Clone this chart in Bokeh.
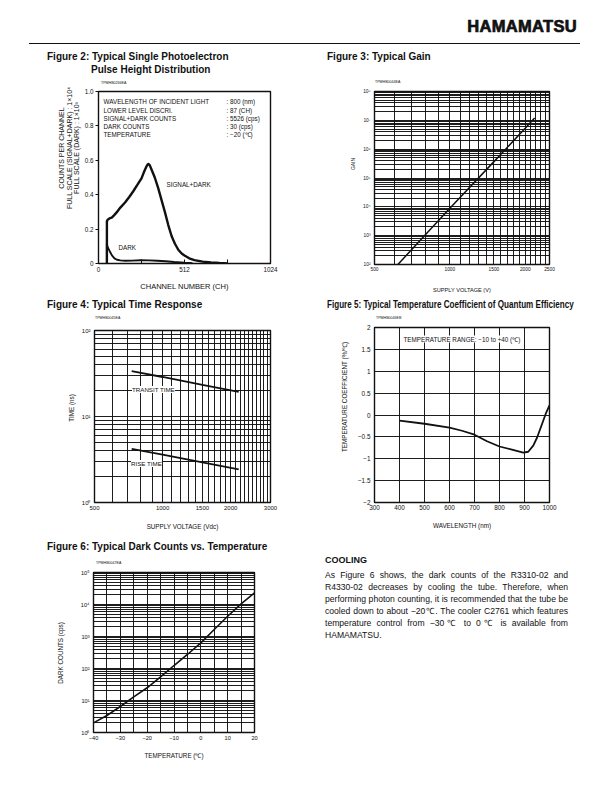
from bokeh.plotting import figure
from bokeh.models import FixedTicker, Label, Div, Range1d, CustomJSTickFormatter, Spacer
from bokeh.layouts import row, column
from bokeh.embed import file_html
from bokeh.resources import INLINE

FONT = "Liberation Sans"
CSS_FONT = "'Liberation Sans', Arial, sans-serif"
INK = "#111111"

# ---------------- data ----------------
# Figure 2: pulse height distribution (channel, counts per channel, normalised)
sig_channel = [50, 50, 55, 65, 79, 95, 108, 130, 158, 183, 207, 232, 256, 270, 286, 295, 305, 315,
               335, 355, 375, 395, 415, 435, 455, 475, 495, 512, 540, 571, 620, 670, 720, 768]
sig_counts = [0, 0.245, 0.255, 0.262, 0.267, 0.283, 0.297, 0.325, 0.355, 0.387, 0.42, 0.458, 0.495,
              0.53, 0.565, 0.58, 0.572, 0.548, 0.50, 0.44, 0.37, 0.30, 0.225, 0.16, 0.115, 0.08,
              0.058, 0.047, 0.03, 0.02, 0.011, 0.006, 0.003, 0.001]
dark_channel = [50, 50, 53, 60, 70, 80, 95, 110, 130, 160, 200, 250, 300, 350, 400, 450, 512, 560]
dark_counts = [0, 0.115, 0.10, 0.085, 0.065, 0.047, 0.030, 0.022, 0.018, 0.016, 0.017, 0.019,
               0.018, 0.016, 0.013, 0.009, 0.005, 0.002]
fig2_xticks = [0, 512, 1024]
fig2_xlabels = ["0", "512", "1024"]
fig2_yticks = [0, 0.2, 0.4, 0.6, 0.8, 1.0]
fig2_ylabels = ["0", "0.2", "0.4", "0.6", "0.8", "1.0"]
fig2_conditions = ["WAVELENGTH OF INCIDENT LIGHT", "LOWER LEVEL DISCRI.", "SIGNAL+DARK COUNTS",
                   "DARK COUNTS", "TEMPERATURE"]
fig2_values = [": 800 (nm)", ": 87 (CH)", ": 5526 (cps)", ": 30 (cps)", ": \u221220 (\u2103)"]

# Figure 3: gain vs supply voltage
gain_voltage = [620, 800, 1000, 1500, 2000, 2180]
gain_values = [1e2, 1.1e3, 9e3, 3.7e5, 5.3e6, 1.2e7]
fig3_xticks = [500, 1000, 1500, 2000, 2500]
fig3_xlabels = ["500", "1000", "1500", "2000", "2500"]
fig3_yticks = [1e2, 1e3, 1e4, 1e5, 1e6, 1e7, 1e8]
fig3_ylabels = ["10\u00b2", "10\u00b3", "10\u2074", "10\u2075", "10\u2076", "10\u2077", "10\u2078"]

# Figure 4: time response
time_voltage = [730, 1000, 1500, 2170]
transit_time = [33.8, 28.8, 23.3, 19.3]
rise_time = [4.2, 3.6, 2.93, 2.43]
fig4_xticks = [500, 1000, 1500, 2000, 3000]
fig4_xlabels = ["500", "1000", "1500", "2000", "3000"]
fig4_yticks = [1, 10, 100]
fig4_ylabels = ["10\u2070", "10\u00b9", "10\u00b2"]

# Figure 5: temperature coefficient of QE
wavelength = [400, 500, 600, 650, 700, 750, 800, 850, 895, 915, 935, 950, 968, 985, 1000]
temp_coeff = [-0.13, -0.20, -0.29, -0.36, -0.45, -0.60, -0.72, -0.79, -0.86, -0.84, -0.70,
              -0.52, -0.24, 0.03, 0.22]
fig5_xticks = [300, 400, 500, 600, 700, 800, 900, 1000]
fig5_xlabels = ["300", "400", "500", "600", "700", "800", "900", "1000"]
fig5_yticks = [-2, -1.5, -1, -0.5, 0, 0.5, 1, 1.5, 2]
fig5_ylabels = ["\u22122", "\u22121.5", "\u22121", "\u22120.5", "0", "0.5", "1", "1.5", "2"]

# Figure 6: dark counts vs temperature
temperature = [-40, -35, -30, -25, -20, -15, -10, -5, 0, 5, 10, 15, 20]
dark_cps = [2.0, 3.4, 6.5, 13, 25, 55, 124, 274, 630, 1660, 4300, 10500, 23000]
fig6_xticks = [-40, -30, -20, -10, 0, 10, 20]
fig6_xlabels = ["\u221240", "\u221230", "\u221220", "\u221210", "0", "10", "20"]
fig6_yticks = [1, 10, 100, 1e3, 1e4, 1e5]
fig6_ylabels = ["10\u2070", "10\u00b9", "10\u00b2", "10\u00b3", "10\u2074", "10\u2075"]


# ---------------- helpers ----------------
def log_grid(lo_exp, hi_exp):
    out = []
    for e in range(lo_exp, hi_exp):
        for m in range(1, 10):
            out.append(m * 10.0 ** e)
    out.append(10.0 ** hi_exp)
    return out


def fmt(tick_values, tick_labels):
    return CustomJSTickFormatter(args=dict(tvals=list(tick_values), tlabs=list(tick_labels)), code="""
const i = tvals.findIndex((t) => Math.abs(t - tick) <= 1e-6 * Math.max(1, Math.abs(t)));
return i >= 0 ? tlabs[i] : "";
""")


def text_div(w, h, ox, oy, items):
    """items: (page_x, page_y_center, text, size_px, bold, rotated, extra_css)"""
    parts = []
    for (px, py, text, size, bold, rotated, extra) in items:
        lh = size * 1.2
        weight = "bold" if bold else "normal"
        if rotated:
            parts.append(
                f'<div style="position:absolute;left:{px - ox}px;top:{py - oy}px;white-space:nowrap;'
                f'font-size:{size}px;line-height:{lh}px;font-weight:{weight};'
                f'transform:translate(-50%,-50%) rotate(-90deg);{extra}">{text}</div>')
        else:
            parts.append(
                f'<div style="position:absolute;left:{px - ox}px;top:{py - oy - lh / 2}px;white-space:nowrap;'
                f'font-size:{size}px;line-height:{lh}px;font-weight:{weight};{extra}">{text}</div>')
    html = (f'<div style="position:relative;width:{w}px;height:{h}px;font-family:{CSS_FONT};'
            f'color:{INK};">' + "".join(parts) + "</div>")
    return Div(width=w, height=h, margin=0, text=html)


def panel(origin, size, frame, left_border, xr, yr, top_items, left_items,
          xtype="linear", ytype="linear", top_gap=4):
    ox, oy = origin
    w, h = size
    fx0, fy0, fx1, fy1 = frame
    th = fy0 - top_gap - oy
    lw = fx0 - left_border - ox
    fw, fh = w - lw, h - th
    p = figure(width=fw, height=fh, x_range=Range1d(*xr), y_range=Range1d(*yr),
               x_axis_type=xtype, y_axis_type=ytype, output_backend="svg",
               toolbar_location=None,
               min_border_left=left_border, min_border_right=ox + w - fx1,
               min_border_top=top_gap, min_border_bottom=oy + h - fy1)
    p.outline_line_color = INK
    p.outline_line_width = 1.4
    p.background_fill_color = "white"
    p.border_fill_color = "white"
    for ax in (p.xaxis[0], p.yaxis[0]):
        ax.axis_line_color = None
        ax.major_tick_in = 0
        ax.major_tick_out = 0
        ax.minor_tick_in = 0
        ax.minor_tick_out = 0
        ax.major_label_text_font = FONT
        ax.axis_label_text_font = FONT
        ax.axis_label_text_font_style = "normal"
        ax.major_label_text_color = INK
        ax.axis_label_text_color = INK
    for g in (p.xgrid[0], p.ygrid[0]):
        g.grid_line_color = "#111111"
        g.grid_line_width = 0.95
    top = text_div(w, th, ox, oy, top_items)
    left = text_div(lw, fh, ox, oy + th, left_items)
    return p, column(top, row(left, p))


def put(p, frame, px, py, text, size, bg=None):
    """Label inside the plot frame, positioned in page pixels."""
    fx0, fy0, fx1, fy1 = frame
    lab = Label(x=px - fx0, y=fy1 - py, x_units="screen", y_units="screen", text=text,
                text_font=FONT, text_font_size=f"{size}px", text_align="left",
                text_baseline="middle", text_color=INK, background_fill_color=bg)
    p.add_layout(lab)


# ---------------- header ----------------
header = Div(width=604, height=48, margin=0, text=f"""
<div style="position:relative;width:604px;height:48px;">
  <div style="position:absolute;left:29px;top:43px;width:551px;height:0;border-top:1.3px solid #111;"></div>
  <div style="position:absolute;right:27px;top:17px;font-family:{CSS_FONT};font-weight:bold;
              font-size:16.5px;line-height:18px;letter-spacing:0.3px;color:#111;-webkit-text-stroke:0.7px #111;">HAMAMATSU</div>
</div>""")

# ---------------- Figure 2 ----------------
F2 = (97, 91, 270, 263)
p2, panel2 = panel((8, 48), (308, 247), F2, 16, (0, 1024), (0, 1.0),
                   [(47, 57, "Figure 2: Typical Single Photoelectron", 10, True, False, ""),
                    (91, 69.5, "Pulse Height Distribution", 10, True, False, ""),
                    (101, 83, "TPMHB0266EA", 3.6, False, False, "")],
                   [(62, 148, "COUNTS PER CHANNEL", 7, False, True, ""),
                    (69.5, 148, "FULL SCALE (SIGNAL+DARK) : 1\u00d710\u2074", 7, False, True, ""),
                    (77, 148, "FULL SCALE (DARK) : 1\u00d710\u00b3", 7, False, True, "")])
p2.xgrid.visible = False
p2.ygrid.visible = False
p2.xaxis.ticker = FixedTicker(ticks=fig2_xticks, minor_ticks=[256, 768])
p2.xaxis.formatter = fmt(fig2_xticks, fig2_xlabels)
p2.xaxis.major_tick_in = 4
p2.xaxis.minor_tick_in = 4
p2.yaxis.ticker = FixedTicker(ticks=fig2_yticks)
p2.yaxis.formatter = fmt(fig2_yticks, fig2_ylabels)
p2.yaxis.major_tick_out = 3
p2.yaxis.major_tick_line_color = INK
p2.xaxis.major_tick_line_color = INK
p2.xaxis.minor_tick_line_color = INK
p2.xaxis.major_label_text_font_size = "6.3px"
p2.yaxis.major_label_text_font_size = "6.3px"
p2.xaxis.major_label_standoff = 3
p2.yaxis.major_label_standoff = 2
p2.xaxis.axis_label = "CHANNEL NUMBER (CH)"
p2.xaxis.axis_label_text_font_size = "7.5px"
p2.xaxis.axis_label_standoff = 7
p2.line(sig_channel, sig_counts, line_color=INK, line_width=2.4)
p2.line(dark_channel, dark_counts, line_color=INK, line_width=1.9)
for yy, c, v in zip([101, 109.5, 117.8, 126, 134.3], fig2_conditions, fig2_values):
    put(p2, F2, 102, yy, c, 6.3)
    put(p2, F2, 225, yy, v, 6.3)
put(p2, F2, 165, 184, "SIGNAL+DARK", 6.3)
put(p2, F2, 117, 246.5, "DARK", 6.3)

# ---------------- Figure 3 ----------------
F3 = (374, 91, 549, 264)
p3, panel3 = panel((316, 48), (288, 247), F3, 18, (500, 2500), (1e2, 1e8),
                   [(327, 57, "Figure 3: Typical Gain", 10, True, False, ""),
                    (375, 82.5, "TPMHB0044EA", 3.6, False, False, "")],
                   [(353, 164, "GAIN", 5, False, True, "")],
                   xtype="log", ytype="log")
p3.xaxis.ticker = FixedTicker(ticks=fig3_xticks)
p3.xaxis.formatter = fmt(fig3_xticks, fig3_xlabels)
p3.yaxis.ticker = FixedTicker(ticks=fig3_yticks)
p3.yaxis.formatter = fmt(fig3_yticks, fig3_ylabels)
p3.xgrid.ticker = FixedTicker(ticks=list(range(500, 2501, 100)))
p3.ygrid.ticker = FixedTicker(ticks=log_grid(2, 8))
p3.xaxis.major_label_text_font_size = "4.8px"
p3.yaxis.major_label_text_font_size = "4.8px"
p3.xaxis.major_label_standoff = 2
p3.yaxis.major_label_standoff = 4
p3.xaxis.axis_label = "SUPPLY VOLTAGE (V)"
p3.xaxis.axis_label_text_font_size = "5.6px"
p3.xaxis.axis_label_standoff = 13
p3.line(gain_voltage, gain_values, line_color=INK, line_width=1.5)

# ---------------- Figure 4 ----------------
F4 = (94, 330, 270, 502)
p4, panel4 = panel((8, 295), (308, 243), F4, 18, (500, 3000), (1, 100),
                   [(47, 305, "Figure 4: Typical Time Response", 10, True, False, ""),
                    (95, 318, "TPMHB0045EA", 3.6, False, False, "")],
                   [(72, 408, "TIME (ns)", 6.3, False, True, "")],
                   xtype="log", ytype="log")
p4.xaxis.ticker = FixedTicker(ticks=fig4_xticks)
p4.xaxis.formatter = fmt(fig4_xticks, fig4_xlabels)
p4.yaxis.ticker = FixedTicker(ticks=fig4_yticks)
p4.yaxis.formatter = fmt(fig4_yticks, fig4_ylabels)
p4.xgrid.ticker = FixedTicker(ticks=list(range(500, 3001, 100)))
p4.ygrid.ticker = FixedTicker(ticks=log_grid(0, 2))
p4.xaxis.major_label_text_font_size = "6px"
p4.yaxis.major_label_text_font_size = "6px"
p4.xaxis.major_label_standoff = 3
p4.yaxis.major_label_standoff = 4
p4.xaxis.axis_label = "SUPPLY VOLTAGE (Vdc)"
p4.xaxis.axis_label_text_font_size = "6.3px"
p4.xaxis.axis_label_standoff = 10
p4.line(time_voltage, transit_time, line_color=INK, line_width=1.8)
p4.line(time_voltage, rise_time, line_color=INK, line_width=1.8)
put(p4, F4, 131.5, 389, "TRANSIT TIME", 6.2, bg="white")
put(p4, F4, 130.5, 463, "RISE TIME", 6.2, bg="white")

# ---------------- Figure 5 ----------------
F5 = (374, 327, 549, 502)
p5, panel5 = panel((316, 295), (288, 243), F5, 24, (300, 1000), (-2, 2),
                   [(327, 305, "Figure 5: Typical Temperature Coefficient of Quantum Efficiency", 10,
                     True, False, "transform:scaleX(0.81);transform-origin:left center;"),
                    (376, 318, "TPMHB0046EB", 3.6, False, False, "")],
                   [(345, 397, "TEMPERATURE COEFFICIENT (%/\u2103)", 6.3, False, True, "")])
p5.xaxis.ticker = FixedTicker(ticks=fig5_xticks)
p5.xaxis.formatter = fmt(fig5_xticks, fig5_xlabels)
p5.yaxis.ticker = FixedTicker(ticks=fig5_yticks)
p5.yaxis.formatter = fmt(fig5_yticks, fig5_ylabels)
p5.xaxis.major_label_text_font_size = "6.4px"
p5.yaxis.major_label_text_font_size = "6.4px"
p5.xaxis.major_label_standoff = 2
p5.yaxis.major_label_standoff = 4
p5.xaxis.axis_label = "WAVELENGTH (nm)"
p5.xaxis.axis_label_text_font_size = "6.3px"
p5.xaxis.axis_label_standoff = 9
p5.line(wavelength, temp_coeff, line_color=INK, line_width=1.8)
put(p5, F5, 403, 338.5, "TEMPERATURE RANGE: \u221210 to +40 (\u2103)", 6.3, bg="white")

# ---------------- Figure 6 ----------------
F6 = (93, 572, 254, 732)
p6, panel6 = panel((8, 538), (308, 232), F6, 20, (-40, 20), (1, 1e5),
                   [(47, 547, "Figure 6: Typical Dark Counts vs. Temperature", 10, True, False, ""),
                    (96, 563, "TPMHB0047EA", 3.6, False, False, "")],
                   [(61, 653, "DARK COUNTS (cps)", 6.3, False, True, "")],
                   ytype="log")
p6.xaxis.ticker = FixedTicker(ticks=fig6_xticks)
p6.xaxis.formatter = fmt(fig6_xticks, fig6_xlabels)
p6.yaxis.ticker = FixedTicker(ticks=fig6_yticks)
p6.yaxis.formatter = fmt(fig6_yticks, fig6_ylabels)
p6.xgrid.ticker = FixedTicker(ticks=list(range(-40, 21, 5)))
p6.ygrid.ticker = FixedTicker(ticks=log_grid(0, 5))
p6.xaxis.major_label_text_font_size = "5.6px"
p6.yaxis.major_label_text_font_size = "5.6px"
p6.xaxis.major_label_standoff = 3
p6.yaxis.major_label_standoff = 4
p6.xaxis.axis_label = "TEMPERATURE (\u2103)"
p6.xaxis.axis_label_text_font_size = "6.3px"
p6.xaxis.axis_label_standoff = 9
p6.line(temperature, dark_cps, line_color=INK, line_width=1.6)

# ---------------- text block ----------------
lines = [
    "As Figure 6 shows, the dark counts of the R3310-02 and",
    "R4330-02 decreases by cooling the tube. Therefore, when",
    "performing photon counting, it is recommended that the tube be",
    "cooled down to about \u221220\u2103. The cooler C2761 which features",
    "temperature control from \u221230\u2103 to 0\u2103 is available from",
    "HAMAMATSU.",
]
rows_html = "".join(
    f'<div style="text-align:justify;text-align-last:{"justify" if i < len(lines) - 1 else "left"};white-space:nowrap;">{t}</div>'
    for i, t in enumerate(lines))
cooling = Div(width=288, height=232, margin=0, text=f"""
<div style="position:relative;width:288px;height:232px;font-family:{CSS_FONT};color:#111;">
  <div style="position:absolute;left:9px;top:17px;font-weight:bold;font-size:9px;line-height:11px;">COOLING</div>
  <div style="position:absolute;left:9px;top:31px;width:243px;font-size:8.6px;line-height:12px;">{rows_html}</div>
</div>""")

layout = column(header,
                row(Spacer(width=8, height=247), panel2, panel3),
                row(Spacer(width=8, height=243), panel4, panel5),
                row(Spacer(width=8, height=232), panel6, cooling))

with open("out.html", "w") as f:
    f.write(file_html(layout, INLINE))
